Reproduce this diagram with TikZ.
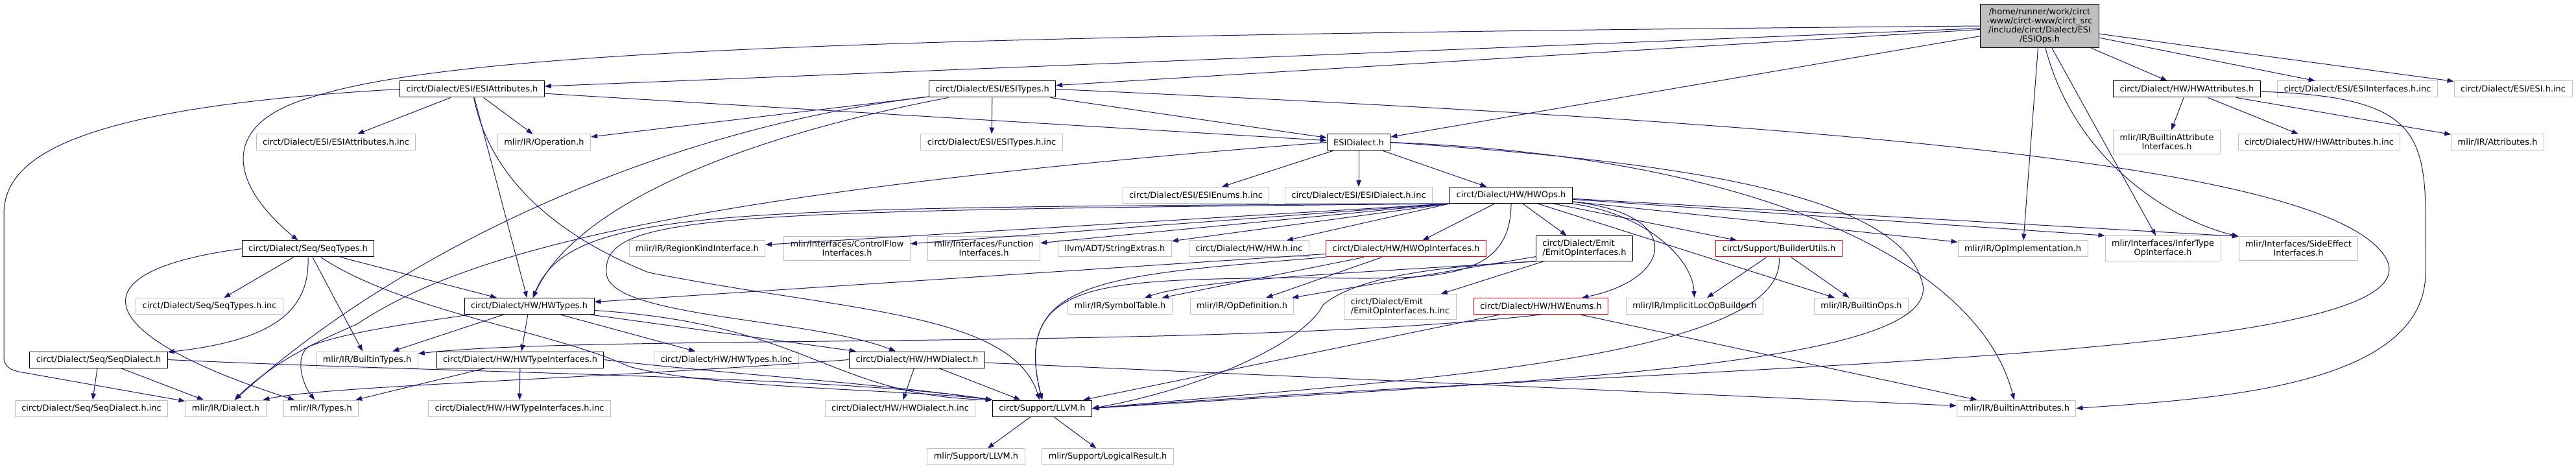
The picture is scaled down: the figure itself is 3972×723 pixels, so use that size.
\documentclass[tikz,border=0pt]{standalone}
\usepackage{fontspec}
\setmainfont{DejaVu Sans}
\usetikzlibrary{arrows.meta}
\definecolor{depB}{RGB}{25,25,112}
\definecolor{boxG}{RGB}{191,191,191}
\definecolor{boxR}{RGB}{255,0,0}

\begin{document}
\begin{tikzpicture}[x=0.75pt,y=-0.75pt,
  filebox/.style={draw,line width=0.75pt,fill=white,font=\fontsize{9.7}{10.7}\selectfont,
    inner xsep=7.5pt,inner ysep=4.5pt,minimum height=18.75pt,align=center},
  incbox/.style={filebox,draw=black},
  leafbox/.style={filebox,draw=boxG},
  truncbox/.style={filebox,draw=boxR},
  hdrbox/.style={filebox,draw=black,fill=boxG},
  dep/.style={depB,line width=0.75pt,-{Triangle[length=7.5pt,width=5.5pt]}}]
\useasboundingbox (0,0) rectangle (3972,723);
% rows, top to bottom
\node[hdrbox] (esiops) at (3145,40) {/home/runner/work/circt\\-www/circt-www/circt\_src\\/include/circt/Dialect/ESI\\/ESIOps.h};
\node[incbox] (esiattr) at (728,137.5) {circt/Dialect/ESI/ESIAttributes.h};
\node[incbox] (esitypes) at (1530,137.5) {circt/Dialect/ESI/ESITypes.h};
\node[incbox] (hwattr) at (3372,137.5) {circt/Dialect/HW/HWAttributes.h};
\node[leafbox] (esiifinc) at (3635,137.5) {circt/Dialect/ESI/ESIInterfaces.h.inc};
\node[leafbox] (esiinc) at (3875,137.5) {circt/Dialect/ESI/ESI.h.inc};
\node[leafbox] (esiattrinc) at (518,219.5) {circt/Dialect/ESI/ESIAttributes.h.inc};
\node[leafbox] (operation) at (839,219.5) {mlir/IR/Operation.h};
\node[leafbox] (esitypesinc) at (1529,219.5) {circt/Dialect/ESI/ESITypes.h.inc};
\node[incbox] (esidialect) at (2095,219.5) {ESIDialect.h};
\node[leafbox] (battrif) at (3341,219) {mlir/IR/BuiltinAttribute\\Interfaces.h};
\node[leafbox] (hwattrinc) at (3576,219.5) {circt/Dialect/HW/HWAttributes.h.inc};
\node[leafbox] (attributes) at (3851,219.5) {mlir/IR/Attributes.h};
\node[leafbox] (esienumsinc) at (1844,301) {circt/Dialect/ESI/ESIEnums.h.inc};
\node[leafbox] (esidialectinc) at (2095,301) {circt/Dialect/ESI/ESIDialect.h.inc};
\node[incbox] (hwops) at (2330,301) {circt/Dialect/HW/HWOps.h};
\node[incbox] (seqtypes) at (475,383.5) {circt/Dialect/Seq/SeqTypes.h};
\node[leafbox] (regionkind) at (1075,383.5) {mlir/IR/RegionKindInterface.h};
\node[leafbox] (controlflow) at (1306,383) {mlir/Interfaces/ControlFlow\\Interfaces.h};
\node[leafbox] (function) at (1517,383) {mlir/Interfaces/Function\\Interfaces.h};
\node[leafbox] (strext) at (1719,383.5) {llvm/ADT/StringExtras.h};
\node[leafbox] (hwinc) at (1926,383.5) {circt/Dialect/HW/HW.h.inc};
\node[truncbox] (hwopif) at (2168,383.5) {circt/Dialect/HW/HWOpInterfaces.h};
\node[incbox,align=left] (emitopif) at (2443,383) {circt/Dialect/Emit\\/EmitOpInterfaces.h};
\node[truncbox] (builderutils) at (2743,383.5) {circt/Support/BuilderUtils.h};
\node[leafbox] (opimpl) at (3119,383.5) {mlir/IR/OpImplementation.h};
\node[leafbox] (infertype) at (3335,383) {mlir/Interfaces/InferType\\OpInterface.h};
\node[leafbox] (sideeffect) at (3544,383) {mlir/Interfaces/SideEffect\\Interfaces.h};
\node[leafbox] (seqtypesinc) at (323,472) {circt/Dialect/Seq/SeqTypes.h.inc};
\node[incbox] (hwtypes) at (816,472) {circt/Dialect/HW/HWTypes.h};
\node[leafbox] (symtab) at (1727,472) {mlir/IR/SymbolTable.h};
\node[leafbox] (opdef) at (1915,472) {mlir/IR/OpDefinition.h};
\node[leafbox,align=left] (emitopifinc) at (2159,473) {circt/Dialect/Emit\\/EmitOpInterfaces.h.inc};
\node[truncbox] (hwenums) at (2376,472) {circt/Dialect/HW/HWEnums.h};
\node[leafbox] (implicitloc) at (2613,472) {mlir/IR/ImplicitLocOpBuilder.h};
\node[leafbox] (builtinops) at (2870,472) {mlir/IR/BuiltinOps.h};
\node[incbox] (seqdialect) at (152,554.5) {circt/Dialect/Seq/SeqDialect.h};
\node[leafbox] (builtintypes) at (566,554.5) {mlir/IR/BuiltinTypes.h};
\node[incbox] (hwtypeif) at (802,554.5) {circt/Dialect/HW/HWTypeInterfaces.h};
\node[leafbox] (hwtypesinc) at (1120,554.5) {circt/Dialect/HW/HWTypes.h.inc};
\node[incbox] (hwdialect) at (1414,554.5) {circt/Dialect/HW/HWDialect.h};
\node[leafbox] (seqdialectinc) at (141,629.5) {circt/Dialect/Seq/SeqDialect.h.inc};
\node[leafbox] (dialect) at (348,629.5) {mlir/IR/Dialect.h};
\node[leafbox] (types) at (495,629.5) {mlir/IR/Types.h};
\node[leafbox] (hwtypeifinc) at (801,629.5) {circt/Dialect/HW/HWTypeInterfaces.h.inc};
\node[leafbox] (hwdialectinc) at (1388,629.5) {circt/Dialect/HW/HWDialect.h.inc};
\node[incbox] (llvm) at (1607,629.5) {circt/Support/LLVM.h};
\node[leafbox] (battr) at (3109,629.5) {mlir/IR/BuiltinAttributes.h};
\node[leafbox] (mlirllvm) at (1505,704) {mlir/Support/LLVM.h};
\node[leafbox] (logical) at (1708,704) {mlir/Support/LogicalResult.h};
% straight includes
\foreach \a/\b in {esiops/esiattr,esiops/esitypes,esiops/esidialect,esiops/hwattr,esiops/esiifinc,esiops/esiinc,esiops/opimpl,esiops/infertype,
  esiattr/esiattrinc,esiattr/operation,esiattr/hwtypes,esiattr/esidialect,
  esitypes/esitypesinc,esitypes/operation,esitypes/esidialect,
  esidialect/esienumsinc,esidialect/esidialectinc,esidialect/hwops,
  hwattr/battrif,hwattr/hwattrinc,hwattr/attributes,
  hwops/hwopif,hwops/emitopif,hwops/builderutils,hwops/builtinops,hwops/opimpl,
  hwopif/hwtypes,hwopif/symtab,hwopif/opdef,emitopif/emitopifinc,emitopif/opdef,
  hwenums/llvm,hwenums/battr,builderutils/implicitloc,builderutils/builtinops,
  seqtypes/seqtypesinc,seqtypes/builtintypes,seqtypes/hwtypes,
  hwtypes/hwtypesinc,hwtypes/hwdialect,hwtypes/hwtypeif,hwtypes/builtintypes,
  seqdialect/seqdialectinc,seqdialect/dialect,hwtypeif/hwtypeifinc,hwtypeif/types,
  hwdialect/hwdialectinc,hwdialect/llvm,hwdialect/battr,llvm/mlirllvm,llvm/logical}
  \draw[dep] (\a) -- (\b);
\foreach \b in {regionkind,controlflow,function,strext,hwinc}
  \draw[dep] (hwops.south west) -- (\b);
\draw[dep] (hwops) -- (infertype.north west);
\draw[dep] (hwops) -- (sideeffect.north west);
% long routed includes
\draw[dep] (esiops.west) .. controls (1300,55) and (700,80) .. (480,150) .. controls (340,190) and (350,280) .. (seqtypes);
\draw[dep] (esiops) .. controls (3200,250) and (3350,340) .. (sideeffect.north west);
\draw[dep] (esiattr.west) .. controls (120,165) and (6,240) .. (6,330) -- (6,550) .. controls (6,568) and (20,572) .. (40,575) -- (dialect);
\draw[dep] (esiattr) .. controls (760,300) and (900,380) .. (1000,420) .. controls (1300,480) and (1560,480) .. (llvm);
\draw[dep] (esitypes) .. controls (1000,200) and (600,400) .. (dialect);
\draw[dep] (esitypes) .. controls (1100,220) and (880,330) .. (hwtypes);
\draw[dep] (esitypes.east) .. controls (2800,190) and (3600,250) .. (3680,400) .. controls (3760,560) and (2600,560) .. (llvm.east);
\draw[dep] (esidialect.west) .. controls (1000,300) and (700,400) .. (550,500) .. controls (480,530) and (420,560) .. (dialect);
\draw[dep] (esidialect.east) .. controls (2600,250) and (2935,300) .. (2965,440) .. controls (2985,570) and (2300,590) .. (llvm.east);
\draw[dep] (esidialect.east) .. controls (2700,240) and (3050,400) .. (battr);
\draw[dep] (hwattr) .. controls (3760,150) and (3740,220) .. (3740,420) .. controls (3740,600) and (3400,615) .. (battr.east);
\draw[dep] (hwops.south west) .. controls (1100,320) and (880,320) .. (hwtypes);
\draw[dep] (hwops.south west) .. controls (1100,325) and (930,330) .. (935,420) .. controls (935,490) and (1250,490) .. (hwdialect);
\draw[dep] (hwops.south) .. controls (2330,440) and (2200,430) .. (2000,428) .. controls (1700,432) and (1560,430) .. (llvm.north);
\draw[dep] (hwops) .. controls (2600,330) and (2580,430) .. (hwenums);
\draw[dep] (hwops) .. controls (2540,330) and (2610,400) .. (implicitloc);
\draw[dep] (hwopif.south west) .. controls (1700,425) and (1560,430) .. (llvm.north);
\draw[dep] (emitopif.south west) .. controls (2100,420) and (1850,430) .. (symtab);
\draw[dep] (emitopif.south west) .. controls (2250,410) and (2100,420) .. (2040,470) .. controls (2010,530) and (1850,600) .. (llvm.east);
\draw[dep] (hwenums.south) .. controls (1900,540) and (900,515) .. (builtintypes);
\draw[dep] (builderutils.south) .. controls (2760,560) and (2100,590) .. (llvm.east);
\draw[dep] (seqtypes.south) .. controls (478,480) and (420,525) .. (seqdialect);
\draw[dep] (seqtypes.west) .. controls (100,420) and (150,520) .. (types);
\draw[dep] (seqtypes) .. controls (620,480) and (850,510) .. (970,565) .. controls (1100,600) and (1400,600) .. (llvm.north west);
\draw[dep] (hwtypes) .. controls (620,500) and (520,515) .. (475,535) .. controls (455,550) and (465,590) .. (types);
\draw[dep] (hwtypes) .. controls (1250,500) and (1280,610) .. (llvm.north west);
\draw[dep] (seqdialect.east) .. controls (700,575) and (1300,580) .. (llvm.north west);
\draw[dep] (hwtypeif.east) .. controls (1100,575) and (1350,590) .. (llvm.north west);
\draw[dep] (hwdialect.west) .. controls (900,585) and (500,595) .. (dialect);
\end{tikzpicture}
\end{document}
